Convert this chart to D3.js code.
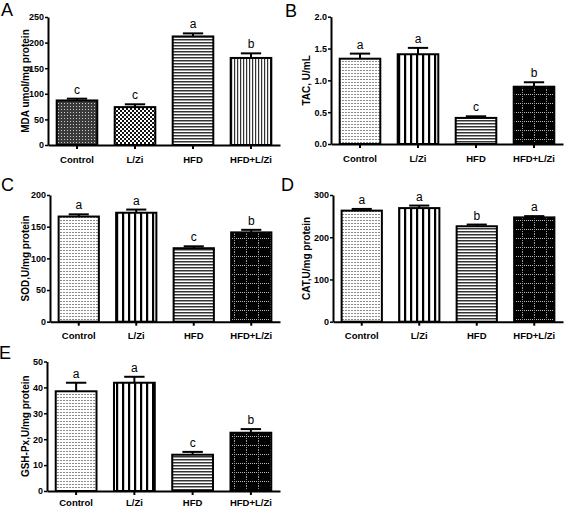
<!DOCTYPE html>
<html>
<head>
<meta charset="utf-8">
<script src="https://cdn.jsdelivr.net/npm/d3@7"></script>
<style>
  html, body { margin: 0; padding: 0; background: #fff; }
  svg { display: block; }
  text { font-family: "Liberation Sans", Arial, Helvetica, sans-serif; }
</style>
</head>
<body>
<svg id="chart" width="565" height="509"></svg>
<script>
// ---------- DATA ----------
const categories = ["Control", "L/Zi", "HFD", "HFD+L/Zi"];

const mdaValues = [87, 74, 212, 170];
const mdaErrors = [3.5, 5.5, 6, 9];
const mdaLetters = ["c", "c", "a", "b"];
const mdaTicks = [0, 50, 100, 150, 200, 250];

const tacValues = [1.34, 1.41, 0.41, 0.90];
const tacErrors = [0.08, 0.10, 0.025, 0.07];
const tacLetters = ["a", "a", "c", "b"];
const tacTicks = [0.0, 0.5, 1.0, 1.5, 2.0];

const sodValues = [166, 172, 116, 141];
const sodErrors = [3.5, 5, 3, 4];
const sodLetters = ["a", "a", "c", "b"];
const sodTicks = [0, 50, 100, 150, 200];

const catValues = [263, 269, 226, 247];
const catErrors = [4, 6, 4, 3];
const catLetters = ["a", "a", "b", "a"];
const catTicks = [0, 100, 200, 300];

const gshValues = [38.5, 41.8, 14.0, 22.5];
const gshErrors = [3.3, 2.3, 1.1, 1.4];
const gshLetters = ["a", "a", "c", "b"];
const gshTicks = [0, 10, 20, 30, 40, 50];

const yTitles = ["MDA umol/mg protein", "TAC, U/mL", "SOD,U/mg protein", "CAT,U/mg protein", "GSH-Px,U/mg protein"];
const panelLetters = ["A", "B", "C", "D", "E"];

// ---------- LAYOUT ----------
const svg = d3.select("#chart");
const defs = svg.append("defs");

// Patterns
function pat(id, w, h, draw) {
  const p = defs.append("pattern").attr("id", id).attr("patternUnits", "userSpaceOnUse")
    .attr("width", w).attr("height", h);
  draw(p);
}
pat("denseDark", 3, 3, p => {
  p.append("rect").attr("width", 3).attr("height", 3).attr("fill", "#3a3a3a");
  p.append("rect").attr("x", 1).attr("y", 1).attr("width", 1).attr("height", 1).attr("fill", "#cfcfcf");
});
pat("checker", 4, 4, p => {
  p.append("rect").attr("width", 4).attr("height", 4).attr("fill", "#111");
  p.append("rect").attr("x", 0).attr("y", 0).attr("width", 2).attr("height", 2).attr("fill", "#fff");
  p.append("rect").attr("x", 2).attr("y", 2).attr("width", 2).attr("height", 2).attr("fill", "#fff");
});
pat("hstripe", 4, 3, p => {
  p.append("rect").attr("width", 4).attr("height", 3).attr("fill", "#fff");
  p.append("rect").attr("y", 0).attr("width", 4).attr("height", 1.5).attr("fill", "#333");
});
pat("vthin", 3, 4, p => {
  p.append("rect").attr("width", 3).attr("height", 4).attr("fill", "#fff");
  p.append("rect").attr("x", 0).attr("width", 1.2).attr("height", 4).attr("fill", "#333");
});
pat("dots", 3, 3, p => {
  p.append("rect").attr("width", 3).attr("height", 3).attr("fill", "#fff");
  p.append("rect").attr("x", 0).attr("y", 1).attr("width", 2).attr("height", 1).attr("fill", "#8a8a8a");
});
pat("vstripe", 6, 4, p => {
  p.append("rect").attr("width", 6).attr("height", 4).attr("fill", "#fff");
  p.append("rect").attr("x", 2).attr("width", 2.2).attr("height", 4).attr("fill", "#000");
});
pat("blackgrid", 12, 9, p => {
  p.append("rect").attr("width", 12).attr("height", 9).attr("fill", "#000");
  [0, 2, 4, 8, 10].forEach(x => p.append("rect").attr("x", x).attr("y", 4).attr("width", 1).attr("height", 1).attr("fill", "#bbb"));
  [0, 2, 4, 6, 8].forEach(y => p.append("rect").attr("x", 6).attr("y", y).attr("width", 1).attr("height", 1).attr("fill", "#999"));
});

const patternsA = ["denseDark", "checker", "hstripe", "vthin"];
const patternsOther = ["dots", "vstripe", "hstripe", "blackgrid"];

const panels = [
  { values: mdaValues, errors: mdaErrors, letters: mdaLetters, ticks: mdaTicks, fmt: d3.format("d"),
    x0: 48, x1: 280, yTop: 17, yBase: 145, titleX: 29, letterPos: [1, 16], pats: patternsA, pad: 7 },
  { values: tacValues, errors: tacErrors, letters: tacLetters, ticks: tacTicks, fmt: d3.format(".1f"),
    x0: 331, x1: 563, yTop: 16.7, yBase: 144, titleX: 310, letterPos: [285, 17], pats: patternsOther, pad: 7 },
  { values: sodValues, errors: sodErrors, letters: sodLetters, ticks: sodTicks, fmt: d3.format("d"),
    x0: 50, x1: 280, yTop: 195, yBase: 321.7, titleX: 29, letterPos: [1, 191], pats: patternsOther, pad: 7 },
  { values: catValues, errors: catErrors, letters: catLetters, ticks: catTicks, fmt: d3.format("d"),
    x0: 333, x1: 563, yTop: 195, yBase: 321.7, titleX: 310, letterPos: [281, 191], pats: patternsOther, pad: 7 },
  { values: gshValues, errors: gshErrors, letters: gshLetters, ticks: gshTicks, fmt: d3.format("d"),
    x0: 47, x1: 280, yTop: 361.5, yBase: 491, titleX: 29, letterPos: [-1, 359], pats: patternsOther, pad: 4 }
];

panels.forEach((p, i) => {
  const g = svg.append("g");
  const x = d3.scaleBand().domain(categories).range([p.x0, p.x1]).paddingInner(0.3).paddingOuter(0.15);
  const y = d3.scaleLinear().domain([p.ticks[0], p.ticks[p.ticks.length - 1]]).range([p.yBase, p.yTop]);

  // bars
  const rows = categories.map((c, k) => ({ c, v: p.values[k], e: p.errors[k], l: p.letters[k], pat: p.pats[k] }));
  g.selectAll(".bar").data(rows).enter().append("rect")
    .attr("x", d => x(d.c)).attr("y", d => y(d.v))
    .attr("width", x.bandwidth()).attr("height", d => y(0) - y(d.v))
    .attr("fill", d => `url(#${d.pat})`).attr("stroke", "#000").attr("stroke-width", 2);

  // error bars
  const capW = x.bandwidth() * 0.5;
  g.selectAll(".err").data(rows).enter().append("line")
    .attr("x1", d => x(d.c) + x.bandwidth() / 2).attr("x2", d => x(d.c) + x.bandwidth() / 2)
    .attr("y1", d => y(d.v)).attr("y2", d => y(d.v + d.e))
    .attr("stroke", "#000").attr("stroke-width", 2);
  g.selectAll(".cap").data(rows).enter().append("line")
    .attr("x1", d => x(d.c) + x.bandwidth() / 2 - capW / 2).attr("x2", d => x(d.c) + x.bandwidth() / 2 + capW / 2)
    .attr("y1", d => y(d.v + d.e)).attr("y2", d => y(d.v + d.e))
    .attr("stroke", "#000").attr("stroke-width", 2);

  // significance letters
  g.selectAll(".sig").data(rows).enter().append("text")
    .attr("x", d => x(d.c) + x.bandwidth() / 2).attr("y", d => y(d.v + d.e) - 5)
    .attr("text-anchor", "middle").attr("font-size", 12).attr("fill", "#000").text(d => d.l);

  // y axis
  const ya = g.append("g").attr("transform", `translate(${p.x0},0)`)
    .call(d3.axisLeft(y).tickValues(p.ticks).tickFormat(p.fmt).tickSize(3).tickSizeOuter(0).tickPadding(1));
  ya.select(".domain").attr("stroke-width", 2);
  ya.selectAll(".tick line").attr("stroke-width", 1.5);
  ya.selectAll("text").attr("font-size", 9).attr("font-weight", "bold").attr("font-family", "Liberation Sans, Arial, sans-serif");

  // x axis
  const xa = g.append("g").attr("transform", `translate(0,${p.yBase})`)
    .call(d3.axisBottom(x).tickSize(4).tickSizeOuter(0).tickPadding(p.pad));
  xa.select(".domain").attr("stroke-width", 2);
  xa.selectAll(".tick line").attr("stroke-width", 2);
  xa.selectAll("text").attr("font-size", 9.5).attr("font-weight", "bold").attr("font-family", "Liberation Sans, Arial, sans-serif");

  // y title
  g.append("text")
    .attr("transform", `translate(${p.titleX},${(p.yTop + p.yBase) / 2}) rotate(-90)`)
    .attr("text-anchor", "middle").attr("font-size", 10).attr("font-weight", "bold")
    .text(yTitles[i]);

  // panel letter
  svg.append("text").attr("x", p.letterPos[0]).attr("y", p.letterPos[1])
    .attr("font-size", 18).attr("font-weight", "normal").text(panelLetters[i]);
});
</script>
</body>
</html>
